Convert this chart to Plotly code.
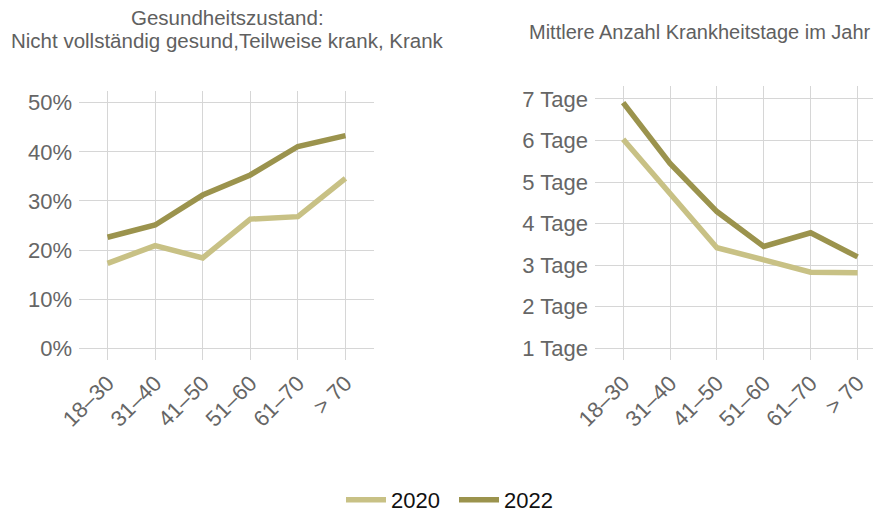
import plotly.graph_objects as go

categories = ["18–30", "31–40", "41–50", "51–60", "61–70", "> 70"]
health_2020 = [17.3, 20.9, 18.4, 26.3, 26.8, 34.6]
health_2022 = [22.6, 25.1, 31.2, 35.3, 41.1, 43.3]
days_2020 = [6.03, 4.73, 3.42, 3.13, 2.83, 2.82]
days_2022 = [6.91, 5.45, 4.29, 3.45, 3.78, 3.20]
pct_ticks = [0, 10, 20, 30, 40, 50]
pct_labels = ["0%", "10%", "20%", "30%", "40%", "50%"]
day_ticks = [1, 2, 3, 4, 5, 6, 7]
day_labels = [f"{d} Tage" for d in day_ticks]

c2020 = "#c8c185"
c2022 = "#9b934d"
FONT = "Liberation Sans, Arial, sans-serif"
LW = 5.5

fig = go.Figure()
fig.add_trace(go.Scatter(x=categories, y=health_2020, mode="lines", name="2020",
                         line=dict(color=c2020, width=LW), xaxis="x", yaxis="y", legendgroup="2020"))
fig.add_trace(go.Scatter(x=categories, y=health_2022, mode="lines", name="2022",
                         line=dict(color=c2022, width=LW), xaxis="x", yaxis="y", legendgroup="2022"))
fig.add_trace(go.Scatter(x=categories, y=days_2020, mode="lines", name="2020", showlegend=False,
                         line=dict(color=c2020, width=LW), xaxis="x2", yaxis="y2", legendgroup="2020"))
fig.add_trace(go.Scatter(x=categories, y=days_2022, mode="lines", name="2022", showlegend=False,
                         line=dict(color=c2022, width=LW), xaxis="x2", yaxis="y2", legendgroup="2022"))

W, H = 881, 515
OFF = 8  # page body offset


def px_x(p):
    return (p - OFF) / W


def px_y(p):
    return 1 - (p - OFF) / H


axis_common = dict(showgrid=True, gridcolor="#d6d6d6", gridwidth=1, zeroline=False,
                   showline=False, automargin=False,
                   tickfont=dict(family=FONT, size=22, color="#666666"))

fig.update_layout(
    width=W, height=H,
    margin=dict(l=0, r=0, t=0, b=0),
    paper_bgcolor="white", plot_bgcolor="white",
    font=dict(family=FONT),
    xaxis=dict(domain=[px_x(79), px_x(374)], type="category", range=[-0.6, 5.6],
               tickangle=-45, anchor="y", ticklabelstandoff=5, **axis_common),
    yaxis=dict(domain=[px_y(360), px_y(91)], range=[-2.4, 52.4], tickvals=pct_ticks,
               ticktext=pct_labels, anchor="x", ticklabelstandoff=6, **axis_common),
    xaxis2=dict(domain=[px_x(595), px_x(881)], type="category", range=[-0.6, 5.5],
                tickangle=-45, anchor="y2", ticklabelstandoff=5, **axis_common),
    yaxis2=dict(domain=[px_y(360), px_y(86)], range=[0.72, 7.31], tickvals=day_ticks,
                ticktext=day_labels, anchor="x2", ticklabelstandoff=6, **axis_common),
    legend=dict(orientation="h", x=px_x(454), xanchor="center", y=px_y(500), yanchor="middle",
                font=dict(family=FONT, size=22, color="#111111"),
                itemwidth=40, entrywidth=58, entrywidthmode="pixels",
                bgcolor="rgba(0,0,0,0)"),
    showlegend=True,
)

title_font_l = dict(family=FONT, size=20.5, color="#606060")
title_font_r = dict(family=FONT, size=20, color="#606060")
fig.add_annotation(text="Gesundheitszustand:", x=px_x(227), y=px_y(17), xref="paper", yref="paper",
                   xanchor="center", yanchor="middle", showarrow=False, font=title_font_l)
fig.add_annotation(text="Nicht vollständig gesund,Teilweise krank, Krank", x=px_x(227), y=px_y(40),
                   xref="paper", yref="paper", xanchor="center", yanchor="middle",
                   showarrow=False, font=title_font_l)
fig.add_annotation(text="Mittlere Anzahl Krankheitstage im Jahr", x=px_x(700), y=px_y(32),
                   xref="paper", yref="paper", xanchor="center", yanchor="middle",
                   showarrow=False, font=title_font_r)

fig.write_html("out.html")
